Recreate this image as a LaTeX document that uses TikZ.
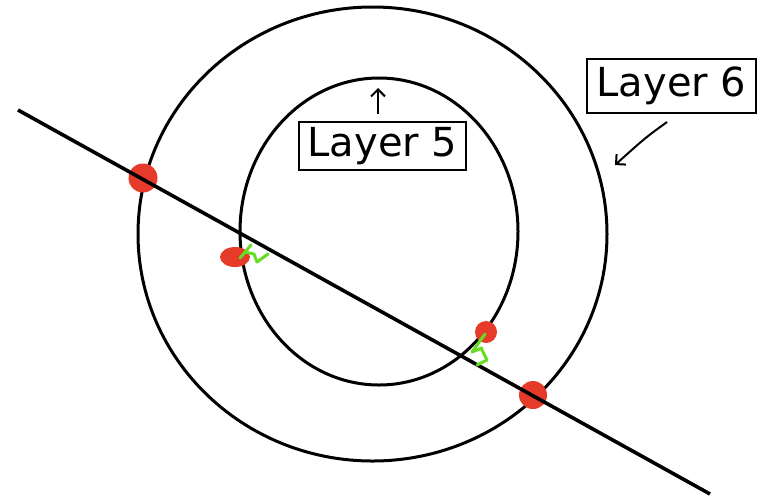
\documentclass[tikz,border=0pt]{standalone}
\usepackage{fontspec}
\setmainfont{DejaVu Sans}
\usetikzlibrary{arrows.meta,shapes.geometric}
\definecolor{dotred}{HTML}{E63B2A}
\definecolor{mkgreen}{HTML}{66DD22}
\tikzset{
  ring/.style={draw=black, line width=3pt},
  reddot/.style={fill=dotred, draw=none, inner sep=0pt},
  greenmark/.style={draw=mkgreen, line width=3pt, line cap=round, line join=round},
  labelbox/.style={draw=black, line width=2.6pt, inner sep=0pt, font=\fontsize{40}{48}\selectfont},
  pointer/.style={draw=black, line width=2pt, -{Straight Barb[length=7pt,width=14pt,line width=2pt]}}
}
\begin{document}
\begin{tikzpicture}[x=1pt,y=-1pt]
\useasboundingbox[fill=white] (0,0) rectangle (765,499);
% rings
\node[ring, ellipse, minimum width=469pt, minimum height=454pt, inner sep=0pt] (outer) at (372.5,234) {};
\node[ring, ellipse, minimum width=278pt, minimum height=307pt, inner sep=0pt] (inner) at (379,231.5) {};
% red dots (under the line)
\node[reddot, circle, minimum size=29pt] (d1) at (143,178) {};
\node[reddot, ellipse, minimum width=30pt, minimum height=20pt] (d2) at (235,257) {};
\node[reddot, circle, minimum size=22pt] (d3) at (486,332) {};
\node[reddot, circle, minimum size=28pt] (d4) at (533,395) {};
% the line
\coordinate (ls) at (18,110);
\coordinate (le) at (710,494);
\draw[line width=3.6pt] (ls) -- (le);
% green marks
\draw[greenmark] (240,258) -- (251,245) (245,252) -- (254,254) -- (257,262) -- (268,254);
\draw[greenmark] (485,334) -- (472,352) -- (482,348) (482,350) -- (487,360) -- (477,365);
% labels
\node[labelbox, minimum width=167pt, minimum height=48pt] (l5) at (382.5,146) {Layer 5};
\node[labelbox, minimum width=169pt, minimum height=54pt] (l6) at (671.5,86) {Layer 6};
\coordinate (a5s) at (378,114);
\coordinate (a5e) at (378,88);
\draw[pointer] (a5s) -- (a5e);
\coordinate (a6s) at (667,122);
\coordinate (a6e) at (615,165);
\draw[pointer] (a6s) .. controls (645,138) .. (a6e);
\end{tikzpicture}
\end{document}
